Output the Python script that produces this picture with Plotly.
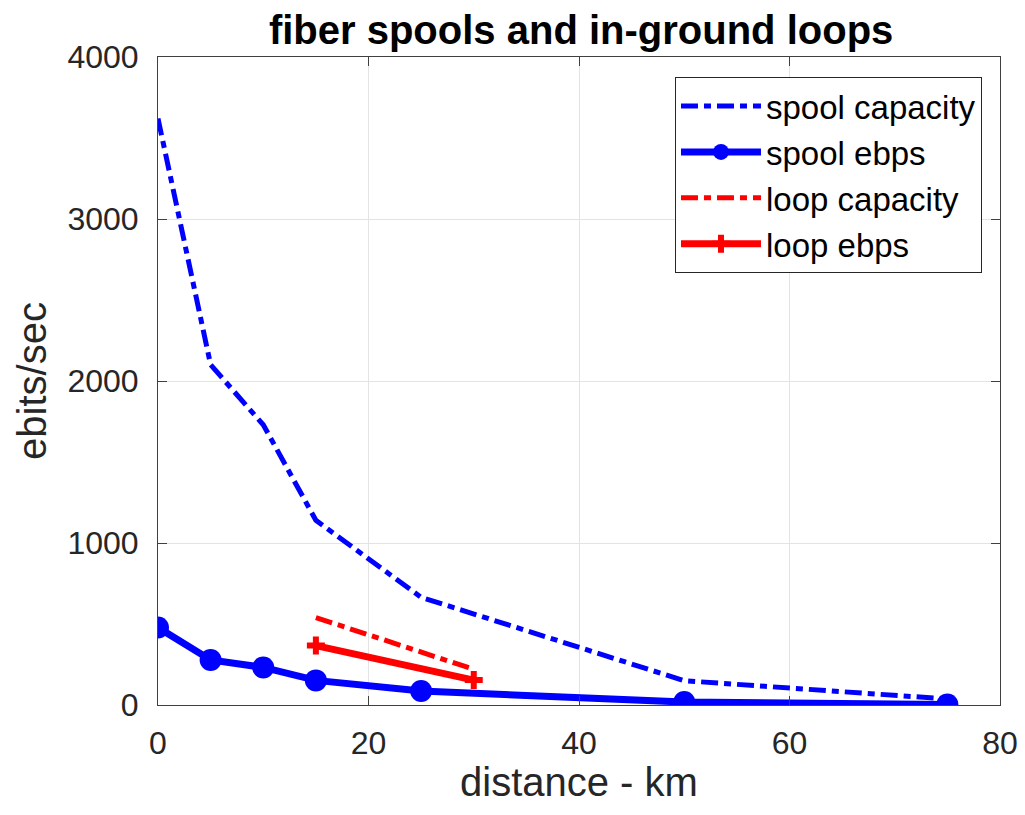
import plotly.graph_objects as go

spool_x = [0, 5, 10, 15, 25, 50, 75]
spool_capacity = [3620, 2100, 1730, 1140, 665, 150, 37]
spool_ebps = [478, 278, 232, 152, 86, 18, 3]
loop_x = [15, 30]
loop_capacity = [540, 220]
loop_ebps = [367, 154]

x_ticks = [0, 20, 40, 60, 80]
y_ticks = [0, 1000, 2000, 3000, 4000]

BLUE = "#0000FF"
RED = "#FF0000"
DASH = "17px,6px,7px,6px"

fig = go.Figure()
fig.add_trace(go.Scatter(x=spool_x, y=spool_capacity, mode="lines", name="spool capacity",
                         line=dict(color=BLUE, width=5, dash=DASH)))
fig.add_trace(go.Scatter(x=spool_x, y=spool_ebps, mode="lines+markers", name="spool ebps",
                         line=dict(color=BLUE, width=7),
                         marker=dict(symbol="circle", size=22, color=BLUE)))
fig.add_trace(go.Scatter(x=loop_x, y=loop_capacity, mode="lines", name="loop capacity",
                         line=dict(color=RED, width=5, dash=DASH)))
fig.add_trace(go.Scatter(x=loop_x, y=loop_ebps, mode="lines+markers", name="loop ebps",
                         line=dict(color=RED, width=7),
                         marker=dict(symbol="cross", size=15, color=RED)))

axis_common = dict(showline=True, linecolor="#404040", linewidth=1, mirror="ticks",
                   ticks="inside", ticklen=9, tickcolor="#404040",
                   showgrid=True, gridcolor="#E3E3E3", gridwidth=1, zeroline=False,
                   automargin=False, ticklabeloverflow="allow",
                   tickfont=dict(size=32, color="#262626"))

fig.update_layout(
    width=1009, height=799,
    margin=dict(l=150, r=17, t=49, b=102),
    paper_bgcolor="white", plot_bgcolor="white",
    font=dict(family="Liberation Sans, Arial, sans-serif", color="#262626"),
    title=dict(text="<b>fiber spools and in-ground loops</b>", x=0.568, xanchor="center",
               y=0.972, yanchor="middle", font=dict(size=40, color="black")),
    xaxis=dict(range=[0, 80], tickvals=x_ticks, ticklabelstandoff=10, **axis_common),
    yaxis=dict(range=[0, 4000], tickvals=y_ticks, ticklabelstandoff=12,
               title=dict(text="ebits/sec", font=dict(size=40, color="#262626"), standoff=8),
               **axis_common),
    legend=dict(x=0.9786, y=0.969, xanchor="right", yanchor="top",
                bgcolor="white", bordercolor="#262626", borderwidth=1,
                font=dict(size=33, color="black"), itemwidth=80,
                tracegroupgap=0),
    showlegend=True,
    annotations=[dict(text="distance - km", xref="paper", yref="paper", x=0.5, y=-0.156,
                      xanchor="center", yanchor="bottom", showarrow=False,
                      font=dict(size=40, color="#262626"))],
)

fig.write_html("out.html")
